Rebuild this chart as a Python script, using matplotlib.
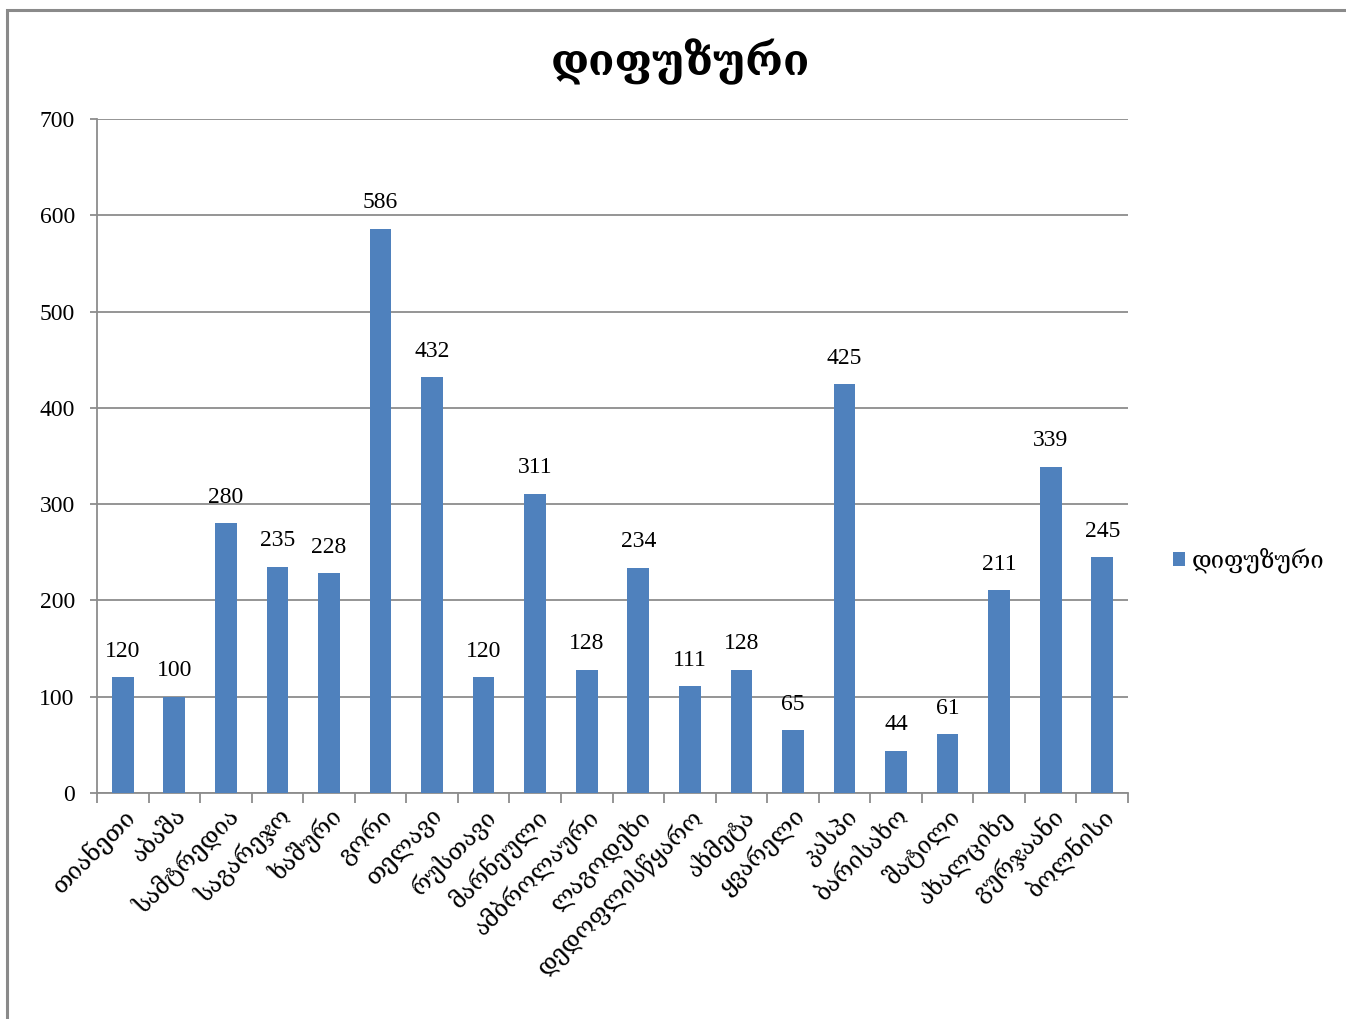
import matplotlib
matplotlib.use("Agg")
import matplotlib.pyplot as plt
import numpy as np
from matplotlib.patches import Rectangle

# Districts and diffuse-case counts
districts = [
    "თიანეთი", "აბაშა", "სამტრედია", "საგარეჯო", "ხაშური", "გორი", "თელავი",
    "რუსთავი", "მარნეული", "ამბროლაური", "ლაგოდეხი", "დედოფლისწყარო", "ახმეტა",
    "ყვარელი", "კასპი", "ბარისახო", "შატილი", "ახალციხე", "გურჯაანი", "ბოლნისი",
]
values = [120, 100, 280, 235, 228, 586, 432, 120, 311, 128, 234, 111, 128,
          65, 425, 44, 61, 211, 339, 245]
series_name = "დიფუზური"
y_ticks = [0, 100, 200, 300, 400, 500, 600, 700]

num_font = ["Liberation Serif", "DejaVu Serif"]
geo_font = ["DejaVu Serif", "DejaVu Sans"]
bar_color = "#4F81BD"
axis_gray = "#8C8C8C"

fig = plt.figure(figsize=(13.46, 10.19), dpi=100)
fig.patch.set_facecolor("white")

# Outer chart frame
fig.add_artist(Rectangle((7 / 1346, -0.05), 1.1, (1019 - 10) / 1019 + 0.05,
                         transform=fig.transFigure, fill=False,
                         edgecolor="#8A8A8A", linewidth=2.2))

ax = fig.add_axes([97 / 1346, 226 / 1019, 1031 / 1346, 674 / 1019])
x = np.arange(len(districts))
bars = ax.bar(x, values, width=0.42, color=bar_color, zorder=3, label=series_name)

ax.set_xlim(-0.5, len(districts) - 0.5)
ax.set_ylim(0, 700)
ax.set_yticks(y_ticks)
ax.set_yticklabels([str(v) for v in y_ticks], family=num_font, fontsize=17)
ax.yaxis.grid(True, color=axis_gray, linewidth=1.3, zorder=0)
ax.set_axisbelow(True)

for side in ("top", "right"):
    ax.spines[side].set_visible(False)
for side in ("left", "bottom"):
    ax.spines[side].set_color(axis_gray)
    ax.spines[side].set_linewidth(1.3)

ax.tick_params(axis="y", length=5, color=axis_gray, width=1.3, pad=11)
ax.set_xticks(x)
ax.set_xticklabels(districts, rotation=45, ha="right", va="top",
                   rotation_mode="anchor", family=geo_font, fontsize=17)
ax.tick_params(axis="x", which="major", length=0, pad=8)
ax.set_xticks(np.arange(-0.5, len(districts), 1.0), minor=True)
ax.tick_params(axis="x", which="minor", length=7, color=axis_gray, width=1.3,
               direction="out")

for xi, v in zip(x, values):
    ax.annotate(str(v), (xi, v), xytext=(0, 11), textcoords="offset points",
                ha="center", va="bottom", family=num_font, fontsize=17)

fig.text(680 / 1346, 1 - 62 / 1019, series_name, ha="center", va="center",
         family=geo_font, fontsize=31, fontweight="bold")

leg = fig.legend(handles=[bars], labels=[series_name], loc="center left",
                 bbox_to_anchor=(1152 / 1346, 1 - 560 / 1019), frameon=False,
                 prop={"family": geo_font, "size": 17},
                 handlelength=0.5, handleheight=0.5, handletextpad=0.3)

fig.savefig("out.png", dpi=100, facecolor="white")
